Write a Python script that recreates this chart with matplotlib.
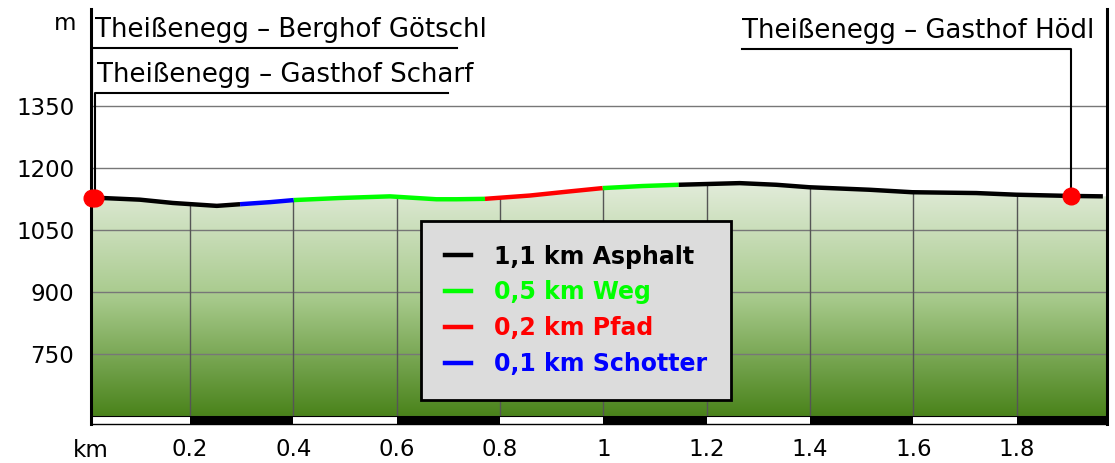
import numpy as np
import matplotlib.pyplot as plt
from matplotlib.lines import Line2D
from matplotlib.colors import LinearSegmentedColormap

# Höhenprofil (km, m)
dist_km = [0.013, 0.103, 0.167, 0.252, 0.297, 0.355, 0.401, 0.490, 0.587, 0.677,
           0.716, 0.771, 0.858, 0.935, 0.999, 1.076, 1.146, 1.264, 1.335, 1.399,
           1.515, 1.598, 1.722, 1.799, 1.905, 1.967]
elev_m = [1128, 1123, 1115, 1108, 1112, 1117, 1122, 1127, 1131, 1124,
          1124, 1125, 1133, 1143, 1151, 1156, 1159, 1163, 1159, 1153,
          1147, 1141, 1139, 1135, 1132, 1131]

# Belag je Abschnitt
seg_start = [0.013, 0.297, 0.401, 0.771, 0.999, 1.146]
seg_end = [0.297, 0.401, 0.771, 0.999, 1.146, 1.967]
seg_surface = ['Asphalt', 'Schotter', 'Weg', 'Pfad', 'Weg', 'Asphalt']

surfaces = ['Asphalt', 'Weg', 'Pfad', 'Schotter']
surface_km = ['1,1', '0,5', '0,2', '0,1']
surface_col = {'Asphalt': '#000000', 'Weg': '#00ff00', 'Pfad': '#ff0000', 'Schotter': '#0000ff'}

# Wegpunkte
wp_names = ['Theißenegg – Berghof Götschl', 'Theißenegg – Gasthof Scharf', 'Theißenegg – Gasthof Hödl']
wp_km = [0.011, 0.016, 1.905]

yticks = [750, 900, 1050, 1200, 1350]
xticks = [0.2, 0.4, 0.6, 0.8, 1.0, 1.2, 1.4, 1.6, 1.8]
xticklabels = ['0.2', '0.4', '0.6', '0.8', '1', '1.2', '1.4', '1.6', '1.8']

# Layout
xlim = (0.0085, 1.975)
ylim = (580.6, 1584)
base = 600
label_line_y = [1490, 1381, 1488]
label_line_end = [0.716, 0.699, 1.268]
label_text_x = [0.016, 0.0195, 1.268]

plt.rcParams['font.family'] = ['DejaVu Sans']
fig = plt.figure(figsize=(11.15, 4.63), dpi=100)
ax = fig.add_axes([91/1115, 39/463, 1016/1115, 415/463])
ax.set_xlim(*xlim)
ax.set_ylim(*ylim)

x = np.array(dist_km)
y = np.array(elev_m)

# Verlaufsfüllung unter dem Profil
cmap = LinearSegmentedColormap.from_list('gr', ['#4a831b', '#a6c98a', '#e2ecda'])
grad = np.linspace(0, 1, 256).reshape(-1, 1)
top = max(elev_m)
im = ax.imshow(grad, cmap=cmap, origin='lower', aspect='auto',
               extent=(xlim[0], xlim[1], base, top), zorder=1)
xf = np.concatenate([[xlim[0]], x, [xlim[1]]])
yf = np.concatenate([[y[0]], y, [y[-1]]])
poly = ax.fill_between(xf, yf, base, color='none', lw=0)
im.set_clip_path(poly.get_paths()[0], transform=ax.transData)

# Gitter
for yt in yticks:
    ax.axhline(yt, color='#777777', lw=1, zorder=2)
for xt in xticks:
    ax.vlines(xt, base, np.interp(xt, x, y), color='#555555', lw=1, zorder=2)

# Maßstabsleiste unten
starts = np.arange(0, 2.0, 0.2)
cols = ['white' if i % 2 == 0 else 'black' for i in range(len(starts))]
ax.bar(starts, base - ylim[0], bottom=ylim[0], width=0.2, align='edge',
       color=cols, edgecolor='none', zorder=2)
ax.axhline(base, color='black', lw=0.8, zorder=2)

# Profil nach Belag
for s, e, surf in zip(seg_start, seg_end, seg_surface):
    m = (x >= s - 1e-9) & (x <= e + 1e-9)
    ax.plot(x[m], y[m], color=surface_col[surf], lw=3.2, solid_capstyle='butt', zorder=4)

# Wegpunkte mit Beschriftung
for name, wk, ly, le, tx in zip(wp_names, wp_km, label_line_y, label_line_end, label_text_x):
    wy = np.interp(wk, x, y)
    ax.plot([wk, wk, le], [wy, ly, ly], color='black', lw=1.5, zorder=3, clip_on=False)
    ax.text(tx, ly + 27, name, fontsize=18.7, ha='left', va='baseline')
    ax.plot(wk, wy, 'o', color='red', ms=12, zorder=5, clip_on=False)

# Achsen
ax.set_yticks(yticks)
ax.set_yticklabels([str(v) for v in yticks])
ax.set_xticks(xticks)
ax.set_xticklabels(xticklabels)
ax.tick_params(length=0, labelsize=16.5)
ax.tick_params(axis='y', pad=12)
ax.tick_params(axis='x', pad=10)
ax.text(0.0, -0.064, 'km', transform=ax.transAxes, fontsize=16.5, ha='center', va='center')
ax.text(-0.014, 0.965, 'm', transform=ax.transAxes, fontsize=16.5, ha='right', va='center')

ax.spines['top'].set_visible(False)
ax.spines['left'].set_linewidth(2.2)
ax.spines['right'].set_linewidth(2.2)
ax.spines['bottom'].set_linewidth(1)

# Legende
handles = [Line2D([0], [0], color=surface_col[s], lw=3.2) for s in surfaces]
labels = [f'{k} km {s}' for k, s in zip(surface_km, surfaces)]
leg = ax.legend(handles, labels, loc='upper left', bbox_to_anchor=(421/1115, 1 - 221/463),
                bbox_transform=fig.transFigure, frameon=True, fancybox=False,
                facecolor='#dcdcdc', edgecolor='black', framealpha=1,
                prop={'weight': 'bold', 'size': 17}, handlelength=1.1,
                handletextpad=1.0, labelspacing=0.5, borderpad=1.0, borderaxespad=0)
leg.get_frame().set_linewidth(2)
leg.set_zorder(6)
for t, s in zip(leg.get_texts(), surfaces):
    t.set_color(surface_col[s])

fig.savefig('out.png', dpi=100)
